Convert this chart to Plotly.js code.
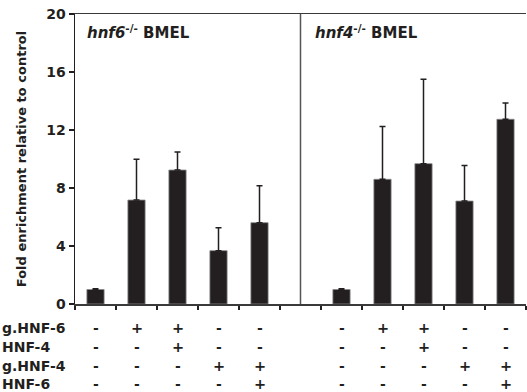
<!DOCTYPE html>
<html>
<head>
<meta charset="utf-8">
<script src="https://cdn.plot.ly/plotly-3.0.1.min.js"></script>
<style>html,body{margin:0;padding:0;background:#fff;}#chart{width:527px;height:392px;}</style>
</head>
<body>
<div id="chart"></div>
<script>
// Categories (11 slots; the middle one is the gap holding the divider)
const leftCats = ["L1", "L2", "L3", "L4", "L5"];
const gapCat = ["gap"];
const rightCats = ["R1", "R2", "R3", "R4", "R5"];

// Fold enrichment values
const hnf6Values = [1.0, 7.17, 9.24, 3.68, 5.61];
const hnf6Errors = [0.05, 2.81, 1.24, 1.58, 2.55];
const hnf4Values = [1.0, 8.6, 9.68, 7.1, 12.74];
const hnf4Errors = [0.05, 3.65, 5.82, 2.46, 1.12];

// Condition rows under the bars (labels as visible in the picture)
const rowLabels = ["g.HNF-6", "HNF-4", "g.HNF-4", "HNF-6"];
const flagHNF6 = ["-", "+", "+", "-", "-"];
const haHNF4 = ["-", "-", "+", "-", "-"];
const flagHNF4 = ["-", "-", "-", "+", "+"];
const haHNF6 = ["-", "-", "-", "-", "+"];
const rows = [flagHNF6, haHNF4, flagHNF4, haHNF6];

const panelTitles = ["<i>hnf6</i><sup>-/-</sup> BMEL", "<i>hnf4</i><sup>-/-</sup> BMEL"];
const yTicks = [0, 4, 8, 12, 16, 20];

const FONT = "DejaVu Sans, Verdana, sans-serif";
const barColor = "#231f20";

function barTrace(cats, vals, errs) {
  return {
    type: "bar", x: cats, y: vals, width: 0.42,
    marker: {color: barColor, line: {color: "#8a8a8a", width: 0.8}},
    error_y: {type: "data", symmetric: false, array: errs, arrayminus: errs.map(() => 0),
              color: "#231f20", thickness: 1.5, width: 3},
    hoverinfo: "none", showlegend: false
  };
}

const data = [barTrace(leftCats, hnf6Values, hnf6Errors), barTrace(rightCats, hnf4Values, hnf4Errors)];

const plotL = 75, plotW = 451, plotT = 14, plotH = 290;
const rowY = [328, 347, 366, 384];
const annotations = [];
rowLabels.forEach((lab, i) => {
  const py = (plotT + plotH - rowY[i]) / plotH;
  annotations.push({xref: "paper", yref: "paper", x: (0 - plotL) / plotW, y: py,
    xanchor: "left", yanchor: "middle", text: lab, showarrow: false,
    font: {family: FONT, size: 14, weight: "bold", color: "#231f20"}});
  [leftCats, rightCats].forEach(cats => {
    cats.forEach((c, j) => {
      annotations.push({xref: "x", yref: "paper", x: c, y: py, xanchor: "center", yanchor: "middle",
        text: rows[i][j], showarrow: false,
        font: {family: FONT, size: rows[i][j] === "+" ? 14.5 : 14, weight: "bold", color: "#231f20"}});
    });
  });
});
const titleX = [85, 313];
panelTitles.forEach((t, i) => {
  annotations.push({xref: "paper", yref: "paper", x: (titleX[i] - plotL) / plotW, y: (plotT + plotH - 32) / plotH,
    xanchor: "left", yanchor: "middle", text: t, showarrow: false,
    font: {family: FONT, size: 15, weight: "bold", color: "#231f20"}});
});

const layout = {
  width: 527, height: 392,
  margin: {l: plotL, r: 527 - plotL - plotW, t: plotT, b: 392 - plotT - plotH, pad: 0},
  paper_bgcolor: "#fff", plot_bgcolor: "#fff",
  font: {family: FONT, color: "#231f20"},
  bargap: 0,
  xaxis: {type: "category", categoryorder: "array", categoryarray: leftCats.concat(gapCat, rightCats),
    range: [-0.5, 10.5], tickson: "boundaries", ticks: "outside", ticklen: 4, tickwidth: 1.2, tickcolor: "#231f20",
    showticklabels: false, showline: true, linecolor: "#3a3a3a", linewidth: 1.5, mirror: true,
    showgrid: false, zeroline: false, fixedrange: true},
  yaxis: {range: [0, 20], tickvals: yTicks, ticktext: yTicks.map(String), ticks: "outside", ticklen: 5,
    tickwidth: 1.2, tickcolor: "#231f20", showline: true, linecolor: "#231f20", linewidth: 1.5,
    showgrid: false, zeroline: false,
    tickfont: {family: FONT, size: 14, weight: "bold", color: "#231f20"},
    title: {text: "Fold enrichment relative to control", standoff: 16,
      font: {family: FONT, size: 13, weight: "bold", color: "#231f20"}}},
  shapes: [{type: "line", xref: "x", yref: "paper", x0: "gap", x1: "gap", y0: 0, y1: 1,
    line: {color: "#555", width: 1.5}}],
  annotations: annotations
};

Plotly.newPlot("chart", data, layout, {staticPlot: true, displayModeBar: false});
</script>
</body>
</html>
